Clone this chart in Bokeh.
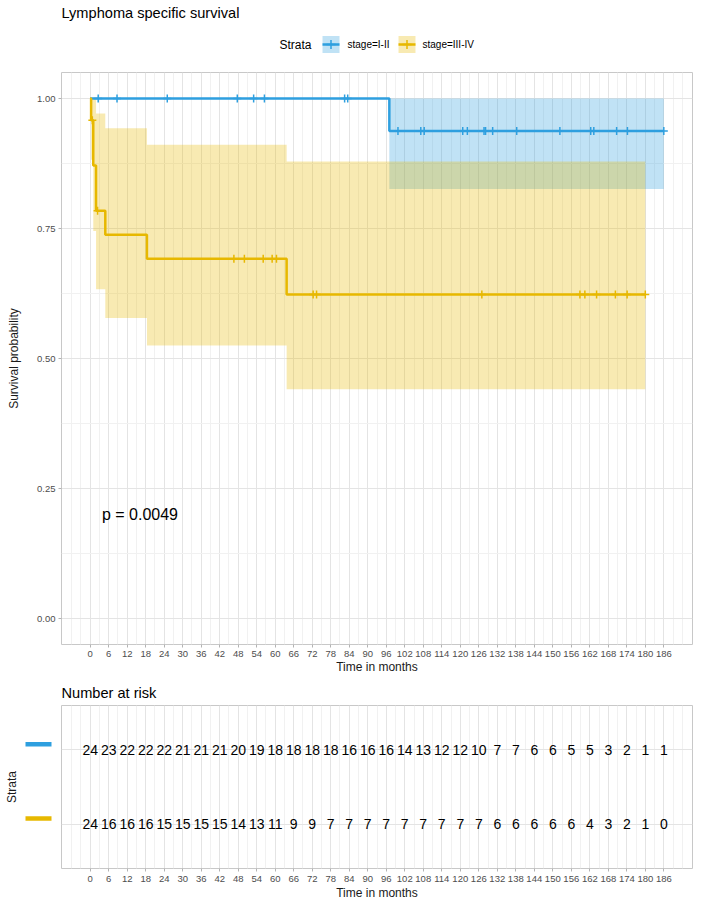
import numpy as np
from bokeh.plotting import figure
from bokeh.models import Range1d, FixedTicker
from bokeh.layouts import column, row
from bokeh.embed import file_html
from bokeh.resources import INLINE
from bokeh.core.properties import value

FONT = "'Liberation Sans', Arial, sans-serif"

# ---------------- data ----------------
title_text = "Lymphoma specific survival"
legend_title = "Strata"
strata_labels = ["stage=I-II", "stage=III-IV"]
colors = ["#2E9FDF", "#E7B800"]

# Kaplan-Meier steps, stage I-II
time_a = [0, 97, 186]
surv_a = [1.0, 0.9375, 0.9375]
lower_a = [1.0, 0.826, 0.826]
upper_a = [1.0, 1.0, 1.0]
cens_a = [2.6, 8.7, 25, 47.7, 53, 56.5, 82.5, 83.5, 99.8, 107.2, 108.3,
          120.8, 122.3, 127.7, 128.2, 130.5, 138.3, 152.3, 162.3, 163.3,
          170.7, 174.2, 186]

# Kaplan-Meier steps, stage III-IV
time_b = [0, 0.3, 1.0, 1.9, 4.9, 18.4, 63.7, 180]
surv_b = [1.0, 0.958, 0.871, 0.784, 0.738, 0.692, 0.623, 0.623]
lower_b = [1.0, 0.882, 0.745, 0.633, 0.578, 0.525, 0.441, 0.441]
upper_b = [1.0, 1.0, 1.0, 0.971, 0.943, 0.911, 0.879, 0.879]
cens_b = [0.7, 2.4, 46.6, 50, 56.1, 59, 60.4, 72.3, 73.4, 127, 158.8,
          160.4, 164.2, 170.3, 174.1, 180]

x_breaks = list(range(0, 187, 6))
x_minor = [-6, -3] + [b + 3 for b in x_breaks] + [192]
y_breaks = [0.0, 0.25, 0.5, 0.75, 1.0]
y_labels = ["0.00", "0.25", "0.50", "0.75", "1.00"]
y_minor = [0.125, 0.375, 0.625, 0.875]

risk_times = x_breaks
risk_a = [24, 23, 22, 22, 22, 21, 21, 21, 20, 19, 18, 18, 18, 18, 16, 16,
          16, 14, 13, 12, 12, 10, 7, 7, 6, 6, 5, 5, 3, 2, 1, 1]
risk_b = [24, 16, 16, 16, 15, 15, 15, 15, 14, 13, 11, 9, 9, 7, 7, 7, 7, 7,
          7, 7, 7, 7, 6, 6, 6, 6, 6, 4, 3, 2, 1, 0]
risk_rows = [2, 1]

pval_text = "p = 0.0049"
pval_x, pval_y = 3.8, 0.2

x_title = "Time in months"
y_title = "Survival probability"
risk_title = "Number at risk"

XR = (-9.3, 195.3)
GRID_MAJ = "#E4E4E4"
GRID_MIN = "#F1F1F1"
BORDER = "#C8C8C8"
TICKCOL = "#B3B3B3"
LABCOL = "#4D4D4D"

LEFT = 61      # left border in px (frame starts here)
RIGHT = 8
FW = 631       # frame width


def surv_at(times, surv, pts):
    idx = np.searchsorted(np.array(times), np.array(pts), side="right") - 1
    return list(np.array(surv)[idx])


def style_x(fig, label_standoff, title_standoff):
    fig.xaxis.ticker = FixedTicker(ticks=x_breaks, minor_ticks=x_minor)
    fig.xaxis.axis_line_color = None
    fig.xaxis.major_tick_line_color = TICKCOL
    fig.xaxis.major_tick_out = 3
    fig.xaxis.major_tick_in = 0
    fig.xaxis.minor_tick_line_color = None
    fig.xaxis.major_label_text_font = FONT
    fig.xaxis.major_label_text_font_size = "9.5px"
    fig.xaxis.major_label_text_color = LABCOL
    fig.xaxis.major_label_standoff = label_standoff
    fig.xaxis.axis_label = x_title
    fig.xaxis.axis_label_text_font = FONT
    fig.xaxis.axis_label_text_font_size = "12px"
    fig.xaxis.axis_label_text_font_style = "normal"
    fig.xaxis.axis_label_text_color = "#1A1A1A"
    fig.xaxis.axis_label_standoff = title_standoff
    fig.xgrid.ticker = FixedTicker(ticks=x_breaks, minor_ticks=x_minor)
    fig.xgrid.grid_line_color = GRID_MAJ
    fig.xgrid.grid_line_width = 1
    fig.xgrid.minor_grid_line_color = GRID_MIN
    fig.xgrid.minor_grid_line_width = 1
    fig.outline_line_color = BORDER
    fig.outline_line_width = 1


# ---------------- header (title + legend), page pixel coordinates ----------------
hdr = figure(frame_width=FW, frame_height=58, x_range=Range1d(LEFT, LEFT + FW),
             y_range=Range1d(58, 0), output_backend="svg", toolbar_location=None,
             min_border_left=LEFT, min_border_right=RIGHT, min_border_top=0,
             min_border_bottom=0, x_axis_location=None, y_axis_location=None,
             outline_line_color=None)
hdr.grid.grid_line_color = None
hdr.text(x=[LEFT], y=[12], text=[title_text], text_font=value(FONT),
         text_font_size="14.6px", text_baseline="middle", text_align="left",
         text_color="#000000")
hdr.text(x=[279], y=[44], text=[legend_title], text_font=value(FONT),
         text_font_size="12px", text_baseline="middle", text_align="left",
         text_color="#000000")
key_x = [330.5, 406.5]
lab_x = [347, 422]
for kx, lx, c, lab in zip(key_x, lab_x, colors, strata_labels):
    hdr.rect(x=[kx], y=[44], width=17, height=17, fill_color=c, fill_alpha=0.3,
             line_color=None)
    hdr.segment(x0=[kx - 8.5], y0=[44], x1=[kx + 8.5], y1=[44], line_color=c,
                line_width=2.5)
    hdr.scatter(x=[kx], y=[44], marker="cross", size=9, line_color=c, line_width=1.5)
    hdr.text(x=[lx], y=[44], text=[lab], text_font=value(FONT),
             text_font_size="10px", text_baseline="middle", text_align="left",
             text_color="#000000")

# ---------------- main survival plot ----------------
p = figure(frame_width=FW, frame_height=572, x_range=Range1d(*XR),
           y_range=Range1d(-0.05, 1.05), output_backend="svg",
           toolbar_location=None, min_border_left=LEFT, min_border_right=RIGHT,
           min_border_top=14, min_border_bottom=32)
style_x(p, 2, 0)
p.yaxis.ticker = FixedTicker(ticks=y_breaks, minor_ticks=y_minor)
p.yaxis.major_label_overrides = {b: l for b, l in zip(y_breaks, y_labels)}
p.yaxis.axis_line_color = None
p.yaxis.major_tick_line_color = TICKCOL
p.yaxis.major_tick_out = 3
p.yaxis.major_tick_in = 0
p.yaxis.minor_tick_line_color = None
p.yaxis.major_label_text_font = FONT
p.yaxis.major_label_text_font_size = "9.5px"
p.yaxis.major_label_text_color = LABCOL
p.yaxis.major_label_standoff = 2
p.yaxis.axis_label = y_title
p.yaxis.axis_label_text_font = FONT
p.yaxis.axis_label_text_font_size = "12px"
p.yaxis.axis_label_text_font_style = "normal"
p.yaxis.axis_label_text_color = "#1A1A1A"
p.yaxis.axis_label_standoff = 13
p.ygrid.ticker = FixedTicker(ticks=y_breaks, minor_ticks=y_minor)
p.ygrid.grid_line_color = GRID_MAJ
p.ygrid.minor_grid_line_color = GRID_MIN

curves = [(time_a, surv_a, lower_a, upper_a, cens_a),
          (time_b, surv_b, lower_b, upper_b, cens_b)]
for (t, s, lo, hi, cz), c in zip(curves, colors):
    p.varea_step(x=t, y1=lo, y2=hi, step_mode="after", fill_color=c, fill_alpha=0.3)
for (t, s, lo, hi, cz), c in zip(curves, colors):
    p.step(x=t, y=s, mode="after", line_color=c, line_width=2.5)
for (t, s, lo, hi, cz), c in zip(curves, colors):
    p.scatter(x=cz, y=surv_at(t, s, cz), marker="cross", size=8, line_color=c,
              line_width=1.5)

p.text(x=[pval_x], y=[pval_y], text=[pval_text], text_font=value(FONT),
       text_font_size="16px", text_baseline="middle", text_align="left",
       text_color="#000000")

# ---------------- risk table ----------------
r = figure(frame_width=FW, frame_height=163, x_range=Range1d(*XR),
           y_range=Range1d(0.4, 2.6), output_backend="svg",
           toolbar_location=None, min_border_left=0, min_border_right=RIGHT,
           min_border_top=29, min_border_bottom=34, y_axis_location=None,
           title=risk_title)
style_x(r, 3, 1)
r.title.text_font = FONT
r.title.text_font_size = "14.6px"
r.title.text_font_style = "normal"
r.title.text_color = "#000000"
r.title.align = "left"
r.title.offset = 0
r.title.standoff = 10
r.ygrid.ticker = FixedTicker(ticks=risk_rows)
r.ygrid.grid_line_color = GRID_MAJ
for nums, yrow in zip([risk_a, risk_b], risk_rows):
    r.text(x=risk_times, y=[yrow] * len(risk_times), text=[str(n) for n in nums],
           text_font=value(FONT), text_font_size="14px", text_baseline="middle",
           text_align="center", text_color="#000000")

# strata side panel (coloured keys and axis title), pixel x coordinates
sfig = figure(frame_width=LEFT, frame_height=163, x_range=Range1d(0, LEFT),
              y_range=r.y_range, output_backend="svg", toolbar_location=None,
              min_border_left=0, min_border_right=0, min_border_top=29,
              min_border_bottom=34, x_axis_location=None, y_axis_location=None,
              outline_line_color=None)
sfig.grid.grid_line_color = None
sfig.rect(x=[38, 38], y=[yr + 0.076 for yr in risk_rows], width=26, height=4.5,
          height_units="screen", fill_color=colors, line_color=None)
sfig.text(x=[11], y=[1.5], text=[legend_title], angle=np.pi / 2,
          text_font=value(FONT), text_font_size="12px", text_baseline="middle",
          text_align="center", text_color="#1A1A1A")

layout = column(hdr, p, row(sfig, r, spacing=0), spacing=0)
open("out.html", "w").write(file_html(layout, INLINE))
